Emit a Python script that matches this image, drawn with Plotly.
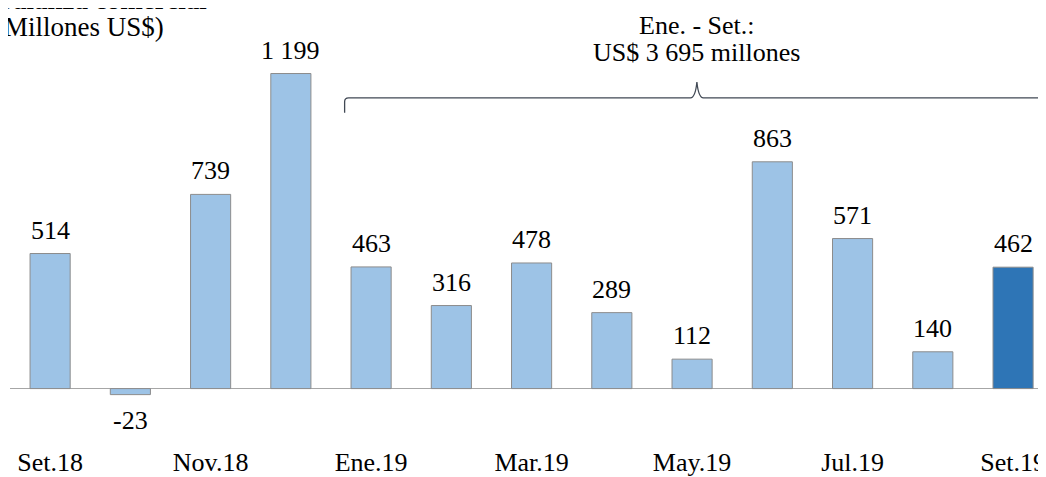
import plotly.graph_objects as go

# ---- data ----
months = ["Set.18", "Oct.18", "Nov.18", "Dic.18", "Ene.19", "Feb.19", "Mar.19",
          "Abr.19", "May.19", "Jun.19", "Jul.19", "Ago.19", "Set.19"]
values = [514, -23, 739, 1199, 463, 316, 478, 289, 112, 863, 571, 140, 462]
value_labels = ["514", "-23", "739", "1 199", "463", "316", "478", "289", "112",
                "863", "571", "140", "462"]
tick_labels = ["Set.18", "Nov.18", "Ene.19", "Mar.19", "May.19", "Jul.19", "Set.19"]
brace_line1 = "Ene. - Set.:"
brace_line2 = "US$ 3 695 millones"
title_line1 = "<b>Balanza comercial</b>"
title_line2 = "(Millones US$)"

# ---- style ----
# page body has an 8px default margin, so the figure is sized to fit the window
W, H = 1038, 469
ML, MR, MT, MB = 2, 0, 52, 29
FONT = "Liberation Serif"
FS = 26
LIGHT = "#9DC3E6"
DARK = "#2E75B6"
EDGE = "#8C8C8C"
PX_PER_CAT = 80.4
PX_PER_UNIT = 0.2655
ZERO_PX = 384

x = list(range(len(months)))
colors = [LIGHT] * (len(months) - 1) + [DARK]

plot_w = W - ML - MR
plot_h = H - MT - MB
x_max = plot_w / PX_PER_CAT - 0.5
y_top = (ZERO_PX - MT) / PX_PER_UNIT
y_bot = -((MT + plot_h) - ZERO_PX) / PX_PER_UNIT

fig = go.Figure()
fig.add_trace(go.Bar(
    x=x, y=values, width=0.5,
    marker=dict(color=colors, line=dict(color=EDGE, width=1)),
    hoverinfo="x+y", showlegend=False,
))

lab_font = dict(family=FONT, size=FS, color="black")
annotations = []
for xi, v, lab in zip(x, values, value_labels):
    if v >= 0:
        annotations.append(dict(x=xi, y=v, text=lab, showarrow=False,
                                yanchor="bottom", yshift=7, font=lab_font))
    else:
        annotations.append(dict(x=xi, y=v, text=lab, showarrow=False,
                                yanchor="top", yshift=-9, font=lab_font))

# brace over Ene.19 .. Set.19
i0 = months.index("Ene.19")
i1 = months.index("Set.19")
bx0 = i0 - 0.33
bx1 = i1 + 0.35
bmid = (bx0 + bx1) / 2 + 0.05
by = max(values) * 0.923
by_end = by - 15 / PX_PER_UNIT
by_peak = by + 16 / PX_PER_UNIT
r = 4 / PX_PER_UNIT
rx = 0.05
path = (f"M {bx0},{by_end} L {bx0},{by - r} Q {bx0},{by} {bx0 + rx},{by} "
        f"L {bmid - 0.08},{by} Q {bmid - 0.02},{by} {bmid},{by_peak} "
        f"Q {bmid + 0.02},{by} {bmid + 0.08},{by} "
        f"L {bx1 - rx},{by} Q {bx1},{by} {bx1},{by - r} L {bx1},{by_end}")
shapes = [dict(type="path", path=path, xref="x", yref="y",
               line=dict(color="#404854", width=1.3))]

annotations.append(dict(x=bmid, y=by_peak, text=brace_line2, showarrow=False,
                        yanchor="bottom", yshift=13, font=lab_font))
annotations.append(dict(x=bmid, y=by_peak, text=brace_line1, showarrow=False,
                        yanchor="bottom", yshift=40, font=lab_font))

# cropped title at top-left
title_font = dict(family=FONT, size=27, color="black")
tx = (-15 - ML) / plot_w
ty = (MT + plot_h - 36) / plot_h
annotations.append(dict(xref="paper", yref="paper", x=tx, y=ty,
                        xanchor="left", yanchor="bottom", align="left",
                        text=title_line2, showarrow=False, font=title_font))
annotations.append(dict(xref="paper", yref="paper", x=tx, y=ty,
                        xanchor="left", yanchor="bottom", align="left", yshift=27,
                        text=title_line1, showarrow=False, font=title_font))

fig.update_layout(
    width=W, height=H,
    margin=dict(l=ML, r=MR, t=MT, b=MB),
    paper_bgcolor="white", plot_bgcolor="white",
    font=dict(family=FONT, size=FS, color="black"),
    xaxis=dict(range=[-0.5, x_max], tickmode="array",
               tickvals=[months.index(t) for t in tick_labels],
               ticktext=tick_labels, showgrid=False, zeroline=False,
               showline=False, ticks="", ticklabeloverflow="allow",
               tickfont=lab_font),
    yaxis=dict(range=[y_bot, y_top], showgrid=False, showticklabels=False,
               zeroline=True, zerolinecolor="#A6A6A6", zerolinewidth=1.3,
               showline=False, ticks=""),
    annotations=annotations,
    shapes=shapes,
    bargap=0.5,
)

fig.write_html("out.html")
